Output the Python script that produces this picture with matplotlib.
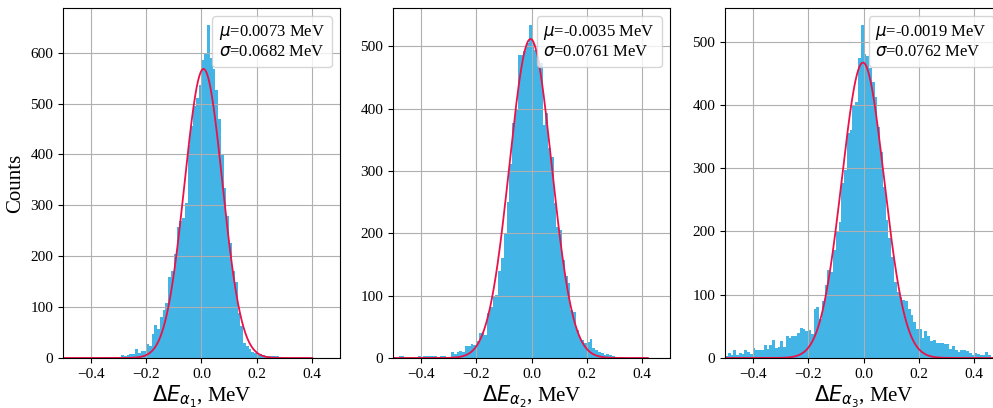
import numpy as np
import matplotlib
matplotlib.use('Agg')
import matplotlib.pyplot as plt
from matplotlib.lines import Line2D

plt.rcParams['font.family'] = 'serif'
plt.rcParams['font.serif'] = ['Liberation Serif', 'DejaVu Serif']
plt.rcParams['mathtext.fontset'] = 'dejavusans'

# histogram bin edges (MeV), 100 bins of 0.01 MeV
bin_lo = -0.5
bin_hi = 0.5
n_bins = 100

# counts per bin
counts_a1 = [0, 0, 0, 0, 0, 0, 0, 0, 0, 0,
             0, 0, 0, 0, 0, 0, 0, 0, 2, 0,
             1, 6, 4, 5, 7, 8, 17, 10, 13, 14,
             28, 24, 48, 64, 57, 80, 95, 108, 160, 170,
             205, 258, 270, 276, 304, 418, 455, 496, 510, 537,
             586, 600, 655, 590, 567, 527, 470, 400, 335, 280,
             225, 170, 150, 88, 62, 29, 24, 18, 12, 9,
             6, 7, 5, 4, 4, 3, 4, 4, 0, 0,
             0, 0, 0, 0, 0, 0, 0, 0, 0, 0,
             0, 0, 0, 0, 0, 0, 0, 0, 0, 0]

counts_a2 = [0, 0, 3, 4, 0, 0, 0, 0, 0, 4,
             0, 3, 4, 4, 4, 3, 0, 4, 4, 0,
             2, 9, 6, 9, 11, 10, 20, 20, 22, 21,
             28, 40, 41, 37, 72, 82, 98, 101, 140, 160,
             200, 250, 312, 377, 398, 487, 487, 492, 505, 535,
             505, 495, 478, 473, 374, 393, 337, 323, 248, 211,
             205, 157, 131, 120, 77, 74, 45, 34, 29, 24,
             26, 30, 16, 13, 9, 8, 5, 6, 5, 3,
             2, 2, 1, 1, 0, 0, 0, 0, 0, 0,
             1, 0, 0, 0, 0, 0, 0, 0, 0, 0]

counts_a3 = [3, 8, 5, 12, 5, 8, 7, 13, 9, 6,
             16, 12, 12, 13, 20, 15, 20, 28, 16, 18,
             27, 18, 35, 31, 35, 34, 40, 48, 46, 43,
             45, 38, 78, 81, 62, 90, 115, 139, 136, 171,
             200, 215, 276, 297, 355, 360, 400, 405, 475, 527,
             481, 478, 458, 437, 413, 366, 326, 270, 218, 190,
             160, 120, 105, 97, 92, 90, 78, 68, 57, 46,
             46, 31, 43, 34, 27, 28, 24, 24, 24, 22,
             22, 14, 19, 12, 10, 12, 12, 11, 8, 5,
             8, 7, 5, 4, 10, 4, 2, 3, 1, 2]

# gaussian fit parameters (MeV) and fitted peak heights
mus = [0.0073, -0.0035, -0.0019]
sigmas = [0.0682, 0.0761, 0.0762]
peaks = [568, 512, 467]
fit_ranges = [(-0.5, 0.40), (-0.5, 0.42), (-0.5, 0.5)]

xlabels = [r'$\Delta E_{\alpha_1}$, MeV', r'$\Delta E_{\alpha_2}$, MeV',
           r'$\Delta E_{\alpha_3}$, MeV']

bar_color = '#42b4e6'
fit_color = '#ea1249'

fig = plt.figure(figsize=(9.93, 4.08), dpi=100)
W, H = 993, 408
lefts = [63, 393, 725]
ax_w, ax_top, ax_bot = 277, 8, 358

edges = np.linspace(bin_lo, bin_hi, n_bins + 1)
centers = 0.5 * (edges[:-1] + edges[1:])
all_counts = [counts_a1, counts_a2, counts_a3]

for i in range(3):
    ax = fig.add_axes([lefts[i] / W, (H - ax_bot) / H, ax_w / W, (ax_bot - ax_top) / H])
    ax.hist(centers, bins=edges, weights=all_counts[i], color=bar_color)
    xs = np.linspace(fit_ranges[i][0], fit_ranges[i][1], 400)
    ys = peaks[i] * np.exp(-(xs - mus[i]) ** 2 / (2 * sigmas[i] ** 2))
    ax.plot(xs, ys, color=fit_color, lw=1.3)
    ax.set_xlim(-0.5, 0.5)
    ax.set_xticks([-0.4, -0.2, 0.0, 0.2, 0.4])
    ax.grid(True)
    ax.tick_params(labelsize=11)
    ax.set_xlabel(xlabels[i], fontsize=15, labelpad=2)
    if i == 0:
        ax.set_ylabel('Counts', fontsize=15)
    blank = Line2D([], [], linestyle='none')
    ax.legend([blank, blank],
              [rf'$\mu$={mus[i]:.4f} MeV', rf'$\sigma$={sigmas[i]:.4f} MeV'],
              loc='upper right', fontsize=12, handlelength=0, handletextpad=0,
              borderpad=0.4, labelspacing=0.15)

fig.savefig('out.png', dpi=100)
